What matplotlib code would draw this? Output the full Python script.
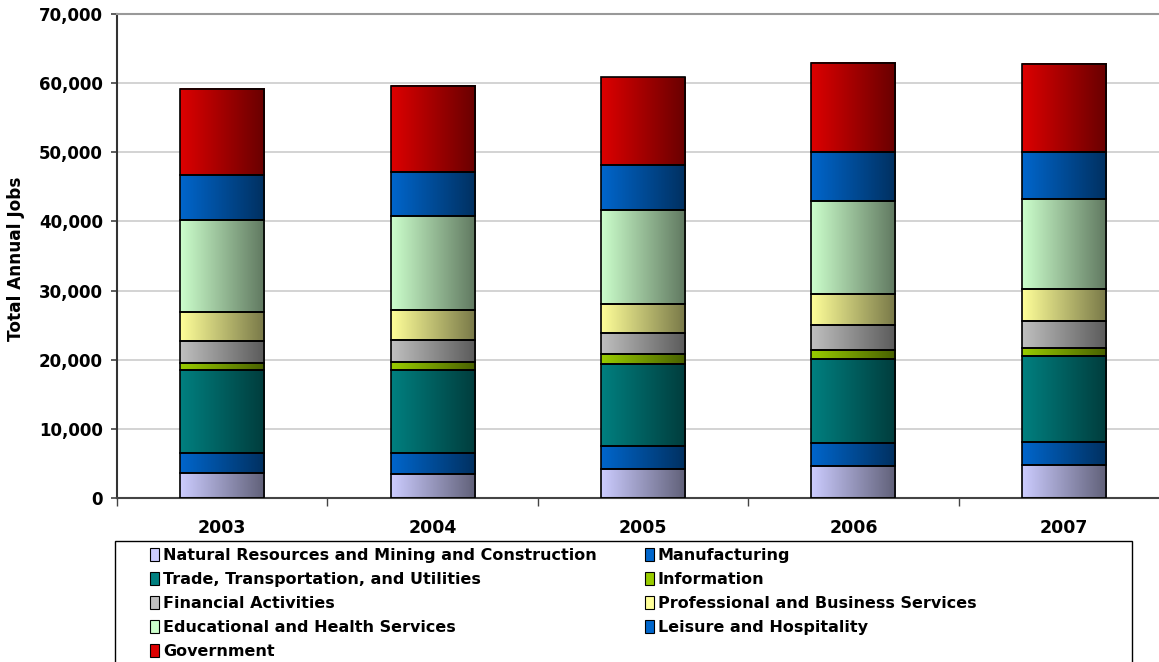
import numpy as np
import matplotlib
matplotlib.use("Agg")
import matplotlib.pyplot as plt
from matplotlib.patches import Patch, Rectangle
from matplotlib.ticker import FuncFormatter, FixedLocator
from matplotlib.colors import to_rgb

years = ["2003", "2004", "2005", "2006", "2007"]

sectors = [
    "Natural Resources and Mining and Construction",
    "Manufacturing",
    "Trade, Transportation, and Utilities",
    "Information",
    "Financial Activities",
    "Professional and Business Services",
    "Educational and Health Services",
    "Leisure and Hospitality",
    "Government",
]

natural_resources = [3600, 3470, 4240, 4630, 4820]
manufacturing = [2950, 3080, 3230, 3270, 3230]
trade_transport = [11900, 11910, 11950, 12240, 12530]
information = [1100, 1150, 1350, 1210, 1110]
financial = [3100, 3280, 3090, 3650, 3850]
professional = [4250, 4240, 4240, 4450, 4660]
education_health = [13350, 13590, 13600, 13450, 13000]
leisure = [6400, 6360, 6500, 7080, 6870]
government = [12550, 12520, 12650, 12920, 12770]

series = [natural_resources, manufacturing, trade_transport, information,
          financial, professional, education_health, leisure, government]

# light edge of each gradient; the dark edge is a shade of it
base_colors = ["#CCCCFF", "#0066CC", "#008080", "#99CC00", "#C0C0C0",
               "#FFFF99", "#CCFFCC", "#0066CC", "#DD0000"]
shade = 0.47

fig = plt.figure(figsize=(11.59, 6.62), dpi=100)
W, H = 1159, 662
ax = fig.add_axes([117 / W, (H - 498) / H, (1169 - 117) / W, (498 - 14) / H])

x = np.arange(len(years))
width = 0.4
bottom = np.zeros(len(years))
n = 256
t = np.linspace(0, 1, n)
for vals, col in zip(series, base_colors):
    vals = np.array(vals, dtype=float)
    left = np.array(to_rgb(col))
    right = left * shade
    grad = (left[None, :] * (1 - t[:, None]) + right[None, :] * t[:, None])[None, :, :]
    for xi, b, v in zip(x, bottom, vals):
        ax.imshow(grad, extent=[xi - width / 2, xi + width / 2, b, b + v],
                  aspect="auto", interpolation="bilinear", zorder=2)
    ax.bar(x, vals, width, bottom=bottom, facecolor="none",
           edgecolor="black", linewidth=1.2, zorder=3)
    bottom += vals

ax.set_xlim(-0.5, 4.5)
ax.set_ylim(0, 70000)
ax.set_yticks(np.arange(0, 70001, 10000))
ax.yaxis.set_major_formatter(FuncFormatter(lambda v, p: f"{v:,.0f}"))
ax.set_xticks(x)
ax.set_xticklabels(years)
ax.xaxis.set_minor_locator(FixedLocator(np.arange(-0.5, 4.6, 1.0)))
ax.tick_params(axis="x", which="major", length=0, pad=15, labelsize=12.5)
ax.tick_params(axis="x", which="minor", length=6, width=1, color="#444444")
ax.tick_params(axis="y", length=4, width=1.2, color="#444444", labelsize=12, pad=6)
for lab in ax.get_xticklabels() + ax.get_yticklabels():
    lab.set_fontweight("bold")

ax.grid(axis="y", color="#cccccc", linewidth=1.2, zorder=0)
ax.set_axisbelow(True)
ax.spines["right"].set_visible(False)
ax.spines["top"].set_color("#999999")
ax.spines["top"].set_linewidth(1.5)
ax.spines["left"].set_color("#333333")
ax.spines["left"].set_linewidth(1.5)
ax.spines["bottom"].set_color("#444444")
ax.spines["bottom"].set_linewidth(1.5)

fig.text(16 / W, 1 - 259 / H, "Total Annual Jobs", rotation=90, ha="center",
         va="center", fontsize=12.2, fontweight="bold")

# legend: two columns inside one framed box
handles = [Patch(facecolor=c, edgecolor="black", linewidth=0.8) for c in base_colors]
legend_kw = dict(frameon=False, handlelength=0.55, handleheight=0.85,
                 handletextpad=0.25, labelspacing=0.56, borderpad=0,
                 prop={"weight": "bold", "size": 11.5})
col1 = [0, 2, 4, 6, 8]
col2 = [1, 3, 5, 7]
leg1 = fig.legend([handles[i] for i in col1], [sectors[i] for i in col1],
                  loc="upper left", bbox_to_anchor=(142 / W, 1 - 540 / H), **legend_kw)
leg2 = fig.legend([handles[i] for i in col2], [sectors[i] for i in col2],
                  loc="upper left", bbox_to_anchor=(637 / W, 1 - 540 / H), **legend_kw)
fig.add_artist(Rectangle((115 / W, -0.05), (1132 - 115) / W, (H - 541) / H + 0.05,
                         transform=fig.transFigure, fill=False,
                         edgecolor="black", linewidth=1.0))

fig.savefig("out.png", dpi=100)
